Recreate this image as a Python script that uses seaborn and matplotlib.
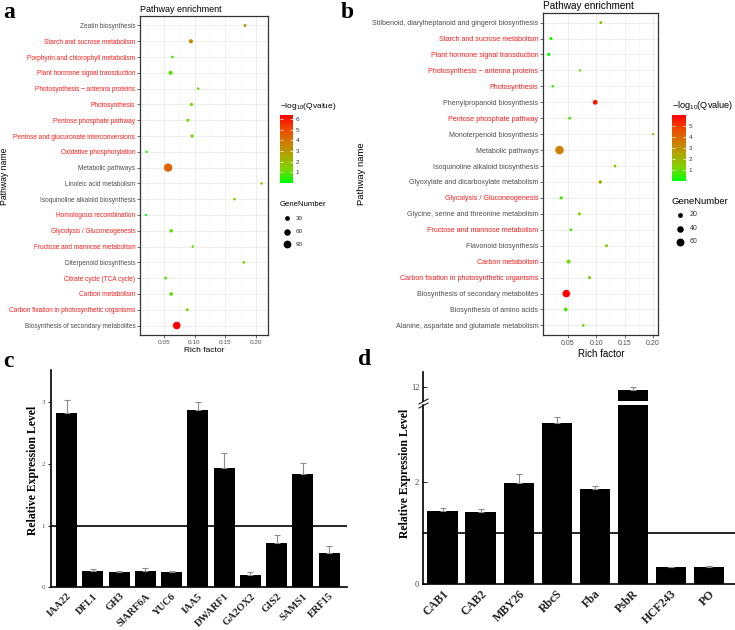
import numpy as np
import pandas as pd
import matplotlib
matplotlib.use("Agg")
import matplotlib.pyplot as plt
import seaborn as sns
from matplotlib.colors import LinearSegmentedColormap, Normalize
from matplotlib.lines import Line2D

# ---------------- data ----------------
pathways_a = ["Zeatin biosynthesis", "Starch and sucrose metabolism",
              "Porphyrin and chlorophyll metabolism", "Plant hormone signal transduction",
              "Photosynthesis \u2212 antenna proteins", "Photosynthesis",
              "Pentose phosphate pathway", "Pentose and glucuronate interconversions",
              "Oxidative phosphorylation", "Metabolic pathways", "Linoleic acid metabolism",
              "Isoquinoline alkaloid biosynthesis", "Homologous recombination",
              "Glycolysis / Gluconeogenesis", "Fructose and mannose metabolism",
              "Diterpenoid biosynthesis", "Citrate cycle (TCA cycle)", "Carbon metabolism",
              "Carbon fixation in photosynthetic organisms",
              "Biosynthesis of secondary metabolites"]
rich_a = [0.182, 0.094, 0.064, 0.061, 0.106, 0.095, 0.089, 0.096, 0.022, 0.057,
          0.209, 0.165, 0.021, 0.062, 0.097, 0.180, 0.053, 0.062, 0.088, 0.071]
qval_a = [3.0, 3.2, 0.6, 0.8, 1.0, 1.2, 1.2, 1.3, 0.4, 4.3,
          1.8, 1.5, 0.0, 0.9, 0.9, 1.5, 0.7, 1.0, 1.4, 6.4]
genes_a = [8, 22, 5, 20, 4, 10, 9, 12, 3, 105, 4, 5, 2, 13, 4, 6, 6, 15, 8, 85]
red_a = [0, 1, 1, 1, 1, 1, 1, 1, 1, 0, 0, 0, 1, 1, 1, 0, 1, 1, 1, 0]

pathways_b = ["Stilbenoid, diarylheptanoid and gingerol biosynthesis",
              "Starch and sucrose metabolism", "Plant hormone signal transduction",
              "Photosynthesis \u2212 antenna proteins", "Photosynthesis",
              "Phenylpropanoid biosynthesis", "Pentose phosphate pathway",
              "Monoterpenoid biosynthesis", "Metabolic pathways",
              "Isoquinoline alkaloid biosynthesis", "Glyoxylate and dicarboxylate metabolism",
              "Glycolysis / Gluconeogenesis", "Glycine, serine and threonine metabolism",
              "Fructose and mannose metabolism", "Flavonoid biosynthesis", "Carbon metabolism",
              "Carbon fixation in photosynthetic organisms",
              "Biosynthesis of secondary metabolites", "Biosynthesis of amino acids",
              "Alanine, aspartate and glutamate metabolism"]
rich_b = [0.108, 0.020, 0.016, 0.071, 0.023, 0.098, 0.053, 0.200, 0.035, 0.133,
          0.107, 0.038, 0.070, 0.055, 0.118, 0.051, 0.088, 0.047, 0.046, 0.077]
qval_b = [1.6, 0.3, 0.0, 0.9, 0.5, 5.6, 0.6, 1.5, 3.4, 1.5,
          2.2, 0.6, 1.4, 0.6, 1.5, 1.0, 1.5, 6.05, 0.8, 1.0]
genes_b = [5, 7, 7, 2, 3, 20, 5, 1, 70, 4, 9, 7, 6, 4, 5, 12, 6, 55, 11, 4]
red_b = [0, 1, 1, 1, 1, 0, 1, 0, 0, 0, 0, 1, 0, 1, 0, 1, 1, 0, 0, 0]

genes_c = ["IAA22", "DFL1", "GH3", "SlARF6A", "YUC6", "IAA5", "DWARF1",
           "GA2OX2", "GIS2", "SAMS1", "ERF15"]
expr_c = [2.82, 0.27, 0.25, 0.26, 0.24, 2.87, 1.93, 0.20, 0.72, 1.83, 0.55]
err_c = [0.21, 0.03, 0.02, 0.05, 0.02, 0.13, 0.24, 0.05, 0.12, 0.18, 0.12]

genes_d = ["CAB1", "CAB2", "MBY26", "RbcS", "Fba", "PsbR", "HCF243", "PO"]
expr_d = [1.43, 1.41, 1.99, 3.16, 1.87, 11.8, 0.33, 0.34]
err_d = [0.06, 0.06, 0.17, 0.11, 0.05, 0.20, 0.01, 0.02]

# ---------------- style ----------------
SANS = ["Liberation Sans", "DejaVu Sans"]
SERIF = ["Liberation Serif", "DejaVu Serif"]
plt.rcParams["font.family"] = SANS
plt.rcParams["mathtext.default"] = "regular"

W, H = 735, 630
fig = plt.figure(figsize=(W / 100, H / 100), dpi=100)


def box(x0, y0, x1, y1):
    return [x0 / W, 1 - y1 / H, (x1 - x0) / W, (y1 - y0) / H]


cmap = LinearSegmentedColormap.from_list(
    "q", ["#00FF00", "#7DD400", "#ACA800", "#D17900", "#EF4600", "#FF0000"])


def enrich(ax, cax, names, rich, q, genes, red, size_norm, sizes, xlim, cticks,
           leg_vals, leg, cb_title, title_fs, lab_fs, tick_fs, xlab_fs):
    df = pd.DataFrame({"pathway": names, "rich": rich, "q": q, "genes": genes})
    qn = (min(q), max(q))
    sns.scatterplot(data=df, x="rich", y="pathway", hue="q", size="genes",
                    palette=cmap, hue_norm=qn, sizes=sizes, size_norm=size_norm,
                    legend=False, edgecolor="none", linewidth=0, ax=ax, zorder=3)
    n = len(names)
    ax.set_ylim(n - 1 + 0.6, -0.6)
    ax.set_xlim(*xlim)
    ax.set_yticks(range(n))
    ax.set_yticklabels(names)
    for lbl, r in zip(ax.get_yticklabels(), red):
        lbl.set_color("#FF1A1A" if r else "#4D4D4D")
    ax.set_xticks([0.05, 0.10, 0.15, 0.20])
    ax.set_xticklabels(["0.05", "0.10", "0.15", "0.20"])
    ax.set_xticks([0.025, 0.075, 0.125, 0.175], minor=True)
    ax.grid(True, which="major", color="#EBEBEB", lw=0.6)
    ax.grid(True, which="minor", axis="x", color="#F3F3F3", lw=0.4)
    ax.set_axisbelow(True)
    ax.tick_params(axis="both", which="major", length=2, width=0.5, color="#333333",
                   pad=1.5)
    ax.tick_params(axis="y", labelsize=lab_fs)
    ax.tick_params(axis="x", labelsize=tick_fs, labelcolor="#4D4D4D")
    ax.tick_params(which="minor", length=0)
    for s in ax.spines.values():
        s.set_color("#333333")
        s.set_linewidth(0.9)
    ax.set_title("Pathway enrichment", loc="left", fontsize=title_fs, pad=3)
    ax.set_xlabel("Rich factor", fontsize=xlab_fs, labelpad=1.5)
    ax.set_ylabel("")

    sm = plt.cm.ScalarMappable(norm=Normalize(*qn), cmap=cmap)
    cb = fig.colorbar(sm, cax=cax)
    cb.outline.set_visible(False)
    cb.set_ticks(cticks)
    cax.tick_params(length=0, labelsize=4.6, pad=2, labelcolor="#333333")
    for t in cticks:
        cax.hlines(t, 0, 0.2, color="white", lw=0.5)
        cax.hlines(t, 0.8, 1, color="white", lw=0.5)
    cx, cy, cfs = cb_title
    fig.text(cx / W, 1 - cy / H, "\u2212log$_{10}$(Qvalue)",
             fontsize=cfs, ha="left", va="center")

    # size legend (GeneNumber)
    tx, ty, tfs, dot_x, lab_x, ys, lfs = leg
    fig.text(tx / W, 1 - ty / H, "GeneNumber", fontsize=tfs, ha="left", va="center")
    lo, hi = size_norm
    for v, yy in zip(leg_vals, ys):
        area = sizes[0] + (v - lo) / (hi - lo) * (sizes[1] - sizes[0])
        fig.add_artist(Line2D([dot_x / W], [1 - yy / H], marker="o", ls="",
                              color="black", markersize=np.sqrt(area),
                              markeredgewidth=0))
        fig.text(lab_x / W, 1 - yy / H, str(v), fontsize=lfs, ha="left",
                 va="center", color="#333333")


# ---------------- panel a ----------------
ax_a = fig.add_axes(box(140, 16, 268, 335))
cax_a = fig.add_axes(box(280, 115, 292.7, 182.7))
enrich(ax_a, cax_a, pathways_a, rich_a, qval_a, genes_a, red_a,
       size_norm=(0, 110), sizes=(2, 38), xlim=(0.0113, 0.2194),
       cticks=[1, 2, 3, 4, 5, 6], leg_vals=[30, 60, 90],
       leg=(280, 204, 5.6, 287, 296, [218, 231.5, 244.3], 4.6),
       cb_title=(280, 107, 6), title_fs=6.5, lab_fs=4.7, tick_fs=4.6, xlab_fs=6)
fig.text(5 / W, 1 - 176 / H, "Pathway name", rotation=90, fontsize=6.2,
         ha="center", va="center")

# ---------------- panel b ----------------
ax_b = fig.add_axes(box(543.3, 13, 658.3, 335))
cax_b = fig.add_axes(box(671.7, 115, 686, 181))
enrich(ax_b, cax_b, pathways_b, rich_b, qval_b, genes_b, red_b,
       size_norm=(0, 75), sizes=(2, 40), xlim=(0.0064, 0.2094),
       cticks=[1, 2, 3, 4, 5], leg_vals=[20, 40, 60],
       leg=(672, 202, 6.8, 680, 690, [215, 229, 241.7], 5),
       cb_title=(672, 105, 6.6), title_fs=7.2, lab_fs=5.1, tick_fs=5, xlab_fs=7)
fig.text(362 / W, 1 - 174 / H, "Pathway name", rotation=90, fontsize=6.8,
         ha="center", va="center")


# ---------------- bar helpers ----------------
def bars(ax, names, vals, errs):
    n = len(names)
    sns.barplot(x=names, y=vals, color="black", saturation=1, width=0.8,
                errorbar=None, ax=ax, zorder=2)
    ax.errorbar(np.arange(n), vals, yerr=[np.zeros(n), errs], fmt="none",
                ecolor="#8C8C8C", elinewidth=0.8, capsize=2, capthick=0.8, zorder=3)
    for s in ("top", "right"):
        ax.spines[s].set_visible(False)
    for s in ("left", "bottom"):
        ax.spines[s].set_linewidth(1.2)
        ax.spines[s].set_color("black")
    ax.set_facecolor("none")


# ---------------- panel c ----------------
ax_c = fig.add_axes(box(50.7, 370, 346.7, 587.3))
bars(ax_c, genes_c, expr_c, err_c)
ax_c.axhline(1, color="black", lw=1.2, zorder=1)
ax_c.set_xlim(-0.61, 10.67)
ax_c.set_ylim(0, 3.52)
ax_c.set_yticks([0, 1, 2, 3])
ax_c.set_yticklabels(["0", "1", "2", "3"], family=SERIF, fontsize=5, color="#555555")
ax_c.tick_params(axis="y", length=2, width=0.6, pad=2)
ax_c.tick_params(axis="x", length=0, pad=3)
for lbl in ax_c.get_xticklabels():
    lbl.set_rotation(45)
    lbl.set_ha("right")
    lbl.set_rotation_mode("anchor")
    lbl.set_family(SERIF)
    lbl.set_fontweight("bold")
    lbl.set_fontsize(7.5)
    lbl.set_color("#222222")
fig.text(33 / W, 1 - 470 / H, "Relative Expression Level", rotation=90,
         ha="center", va="center", fontsize=8.5, fontweight="bold", family=SERIF)

# ---------------- panel d ----------------
ax_d = fig.add_axes(box(423.3, 405, 735, 584))
ax_dt = fig.add_axes(box(423.3, 372, 735, 401))
bars(ax_d, genes_d, expr_d, err_d)
bars(ax_dt, genes_d, expr_d, err_d)
ax_d.axhline(1, color="black", lw=1.2, zorder=1)
for ax in (ax_d, ax_dt):
    ax.set_xlim(-0.51, 7.69)
ax_d.set_ylim(0, 3.51)
ax_dt.set_ylim(11.2, 12.82)
ax_d.set_yticks([0, 2])
ax_d.set_yticklabels(["0", "2"], family=SERIF, fontsize=6, color="#444444")
ax_dt.set_yticks([12])
ax_dt.set_yticklabels(["12"], family=SERIF, fontsize=6, color="#444444")
ax_d.tick_params(axis="y", direction="in", length=3, width=0.6, pad=3)
ax_dt.tick_params(axis="y", direction="in", length=3, width=0.6, pad=3)
ax_dt.spines["bottom"].set_visible(False)
ax_dt.set_xticks([])
ax_d.tick_params(axis="x", length=0, pad=3)
for lbl in ax_d.get_xticklabels():
    lbl.set_rotation(45)
    lbl.set_ha("right")
    lbl.set_rotation_mode("anchor")
    lbl.set_family(SERIF)
    lbl.set_fontweight("bold")
    lbl.set_fontsize(8.5)
    lbl.set_color("#222222")
for dy in (0, 4):
    fig.add_artist(Line2D([419 / W, 428 / W], [1 - (404 + dy) / H, 1 - (399 + dy) / H],
                          color="black", lw=0.7))
fig.text(405 / W, 1 - 473 / H, "Relative Expression Level", rotation=90,
         ha="center", va="center", fontsize=8.5, fontweight="bold", family=SERIF)

# ---------------- panel letters ----------------
for ch, x, y in (("a", 3, 18), ("b", 341, 18), ("c", 3, 367), ("d", 358, 365)):
    fig.text(x / W, 1 - y / H, ch, fontsize=17, fontweight="bold", family=SERIF,
             ha="left", va="baseline")

fig.savefig("out.png", dpi=100)
